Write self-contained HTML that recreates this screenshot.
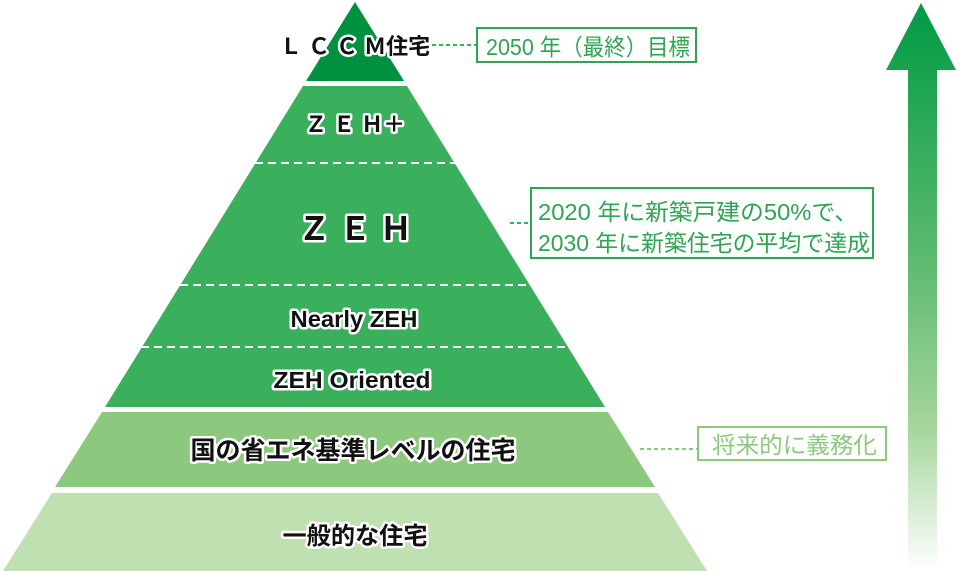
<!DOCTYPE html>
<html><head><meta charset="utf-8"><style>
html,body{margin:0;padding:0;background:#fff;}
svg{display:block}
text{font-family:"Liberation Sans","Noto Sans CJK JP",sans-serif;}
.lbl{font-weight:bold;fill:#111;stroke:#fff;stroke-width:5px;paint-order:stroke;stroke-linejoin:round;text-anchor:middle;}
</style></head><body>
<svg width="960" height="571" viewBox="0 0 960 571" xmlns="http://www.w3.org/2000/svg">
<defs>
<linearGradient id="ag" x1="0" y1="0" x2="0" y2="1">
<stop offset="0" stop-color="#009a44"/>
<stop offset="0.45" stop-color="#5cba6e"/>
<stop offset="0.75" stop-color="#a6d69c"/>
<stop offset="1" stop-color="#ffffff"/>
</linearGradient>
</defs>
<polygon points="355,2 404,81 306,81" fill="#009140"/>
<polygon points="303,86 407,86 605,407 105,407" fill="#3aaf5c"/>
<polygon points="102,412 608,412 655,487 55,487" fill="#8cc97f"/>
<polygon points="52,493 658,493 707,571 3,571" fill="#bfe0b0"/>
<g stroke="#fff" stroke-width="2" stroke-dasharray="8,5">
<line x1="255" y1="163" x2="455" y2="163"/>
<line x1="180" y1="285" x2="530" y2="285"/>
<line x1="141" y1="347" x2="569" y2="347"/>
</g>
<text class="lbl" x="355" y="54" font-size="22">Ｌ Ｃ Ｃ Ｍ住宅</text>
<text class="lbl" x="355" y="132" font-size="22">Ｚ Ｅ Ｈ＋</text>
<text class="lbl" x="355" y="240" font-size="32">Ｚ Ｅ Ｈ</text>
<text class="lbl" x="354" y="327" font-size="23" textLength="127" lengthAdjust="spacingAndGlyphs">Nearly ZEH</text>
<text class="lbl" x="352" y="388" font-size="23" textLength="157" lengthAdjust="spacingAndGlyphs">ZEH Oriented</text>
<text class="lbl" x="353" y="459" font-size="25" textLength="325" lengthAdjust="spacingAndGlyphs">国の省エネ基準レベルの住宅</text>
<text class="lbl" x="355" y="544" font-size="24" textLength="145" lengthAdjust="spacingAndGlyphs">一般的な住宅</text>
<g stroke-dasharray="4,3" stroke-width="2">
<line x1="432" y1="45" x2="476" y2="45" stroke="#3aaf5c"/>
<line x1="510" y1="223" x2="531" y2="223" stroke="#3aaf5c"/>
<line x1="640" y1="449" x2="697" y2="449" stroke="#8cc97f"/>
</g>
<rect x="477" y="28" width="219" height="34" fill="#fff" stroke="#2ea552" stroke-width="2"/>
<text x="486" y="55" font-size="23" fill="#2ea552" textLength="204" lengthAdjust="spacingAndGlyphs">2050 年（最終）目標</text>
<rect x="531" y="188" width="342" height="70" fill="#fff" stroke="#2ea552" stroke-width="2"/>
<text x="538" y="220" font-size="23" fill="#2ea552" textLength="320" lengthAdjust="spacingAndGlyphs">2020 年に新築戸建の50%で、</text>
<text x="538" y="251" font-size="23" fill="#2ea552" textLength="332" lengthAdjust="spacingAndGlyphs">2030 年に新築住宅の平均で達成</text>
<rect x="698" y="427" width="188" height="33" fill="#fff" stroke="#8cc97f" stroke-width="2"/>
<text x="712" y="453" font-size="23" fill="#8cc97f" textLength="165" lengthAdjust="spacingAndGlyphs">将来的に義務化</text>
<polygon points="921,3 956,70 937,70 937,571 908,571 908,70 886,70" fill="url(#ag)"/>
</svg>
</body></html>
